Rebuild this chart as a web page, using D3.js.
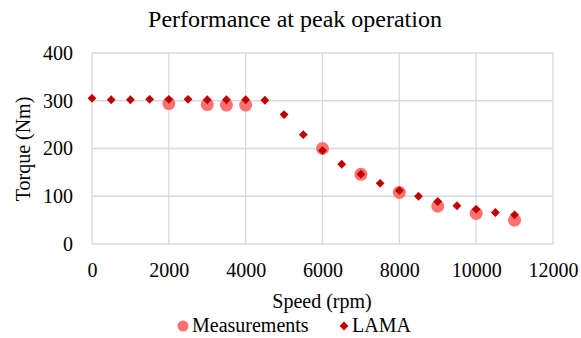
<!DOCTYPE html>
<html>
<head>
<meta charset="utf-8">
<script src="https://cdn.jsdelivr.net/npm/d3@7"></script>
<style>
  body { margin: 0; background: #fff; }
  svg text { font-family: 'Liberation Serif', Tinos, 'Times New Roman', Times, 'DejaVu Serif', serif; fill: #000; }
</style>
</head>
<body>
<div id="viz"></div>
<script>
const lamaSpeed = [0, 500, 1000, 1500, 2000, 2500, 3000, 3500, 4000, 4500, 5000, 5500,
  6000, 6500, 7000, 7500, 8000, 8500, 9000, 9500, 10000, 10500, 11000];
const lamaTorque = [305, 302, 302, 303, 303, 303, 302, 302, 302, 301, 271, 229,
  196, 167, 146, 127, 112, 100, 89, 80, 73, 66, 61];
const measSpeed = [2000, 3000, 3500, 4000, 6000, 7000, 8000, 9000, 10000, 11000];
const measTorque = [294, 292, 291, 291, 200, 146, 108, 79, 64, 50];
const xTicks = [0, 2000, 4000, 6000, 8000, 10000, 12000];
const yTicks = [0, 100, 200, 300, 400];

const W = 581, H = 338;
const M = { top: 53, right: 28, bottom: 94, left: 92 };
const iw = W - M.left - M.right, ih = H - M.top - M.bottom;
const SERIF = "'Liberation Serif', Tinos, 'Times New Roman', Times, 'DejaVu Serif', serif";

const svg = d3.select('#viz').append('svg').attr('width', W).attr('height', H)
  .attr('font-family', SERIF);
const g = svg.append('g').attr('transform', `translate(${M.left},${M.top})`);

const x = d3.scaleLinear().domain([0, 12000]).range([0, iw]);
const y = d3.scaleLinear().domain([0, 400]).range([ih, 0]);

// grid
g.selectAll('.vg').data(xTicks).join('line')
  .attr('x1', d => x(d)).attr('x2', d => x(d))
  .attr('y1', 0).attr('y2', ih)
  .attr('stroke', '#d9d9d9').attr('stroke-width', 1.3);
g.selectAll('.hg').data(yTicks).join('line')
  .attr('x1', 0).attr('x2', iw)
  .attr('y1', d => y(d)).attr('y2', d => y(d))
  .attr('stroke', '#d9d9d9').attr('stroke-width', 1.3);

const xa = g.append('g').attr('transform', `translate(0,${ih})`)
  .call(d3.axisBottom(x).tickValues(xTicks).tickSize(0).tickPadding(19).tickFormat(d3.format('d')));
const ya = g.append('g')
  .call(d3.axisLeft(y).tickValues(yTicks).tickSize(0).tickPadding(19));
[xa, ya].forEach(a => {
  a.attr('font-family', SERIF).attr('font-size', 20);
  a.select('.domain').remove();
  a.selectAll('text').attr('fill', '#000');
});

const meas = measSpeed.map((s, i) => ({ s, t: measTorque[i] }));
const lama = lamaSpeed.map((s, i) => ({ s, t: lamaTorque[i] }));

g.selectAll('.m').data(meas).join('circle')
  .attr('cx', d => x(d.s)).attr('cy', d => y(d.t)).attr('r', 6.5)
  .attr('fill', '#ff7171');

const diamond = d3.symbol().type(d3.symbolDiamond2).size(50);
g.selectAll('.l').data(lama).join('path')
  .attr('transform', d => `translate(${x(d.s)},${y(d.t)})`)
  .attr('d', diamond)
  .attr('fill', '#c00000');

svg.append('text').attr('x', 295).attr('y', 27).attr('text-anchor', 'middle')
  .attr('font-size', 24).text('Performance at peak operation');

svg.append('text').attr('x', 322).attr('y', 308).attr('text-anchor', 'middle')
  .attr('font-size', 20).text('Speed (rpm)');

svg.append('text').attr('transform', `translate(23,149) rotate(-90)`)
  .attr('text-anchor', 'middle').attr('dy', '0.35em').attr('font-size', 20).text('Torque (Nm)');

const lg = svg.append('g');
lg.append('circle').attr('cx', 183).attr('cy', 326).attr('r', 5.5).attr('fill', '#ff7171');
lg.append('text').attr('x', 192).attr('y', 332).attr('font-size', 20).text('Measurements');
lg.append('path').attr('transform', 'translate(344,326)').attr('d', diamond).attr('fill', '#c00000');
lg.append('text').attr('x', 352).attr('y', 332).attr('font-size', 20).text('LAMA');
</script>
</body>
</html>
